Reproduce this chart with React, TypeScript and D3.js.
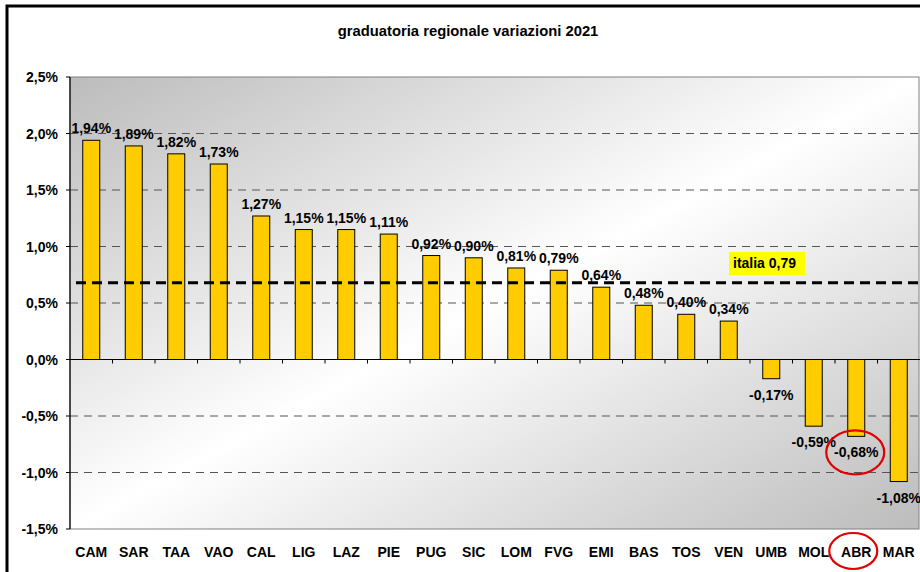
import React from 'react';
import * as d3 from 'd3';

// regions, ordered by variation
const regions = ['CAM', 'SAR', 'TAA', 'VAO', 'CAL', 'LIG', 'LAZ', 'PIE', 'PUG', 'SIC', 'LOM', 'FVG', 'EMI', 'BAS', 'TOS', 'VEN', 'UMB', 'MOL', 'ABR', 'MAR'];
const variations = [1.94, 1.89, 1.82, 1.73, 1.27, 1.15, 1.15, 1.11, 0.92, 0.9, 0.81, 0.79, 0.64, 0.48, 0.4, 0.34, -0.17, -0.59, -0.68, -1.08];
const yTicks = [-1.5, -1.0, -0.5, 0, 0.5, 1.0, 1.5, 2.0, 2.5];
const italiaLine = 0.68;
const italiaLabel = 'italia 0,79';
const highlighted = 'ABR';

const W = 920;
const H = 572;
const FONT = '"Liberation Sans", Arial, sans-serif';

const fmt = (v: number, dec: number) => v.toFixed(dec).replace('.', ',') + '%';

export default function App() {
  const left = 70, right = 920, top = 77, bottom = 529;

  const x = d3.scaleBand<string>().domain(regions).range([left, right]).paddingInner(0.6).paddingOuter(0.3);
  const y = d3.scaleLinear().domain([-1.5, 2.5]).range([bottom, top]);
  const step = x.step();
  const y0 = y(0);

  const hiIdx = regions.indexOf(highlighted);
  const hiX = (x(highlighted) as number) + x.bandwidth() / 2;
  const hiVal = variations[hiIdx];

  return (
    <svg width={W} height={H} style={{ position: 'absolute', left: 0, top: 0 }} fontFamily={FONT}>
      <defs>
        <linearGradient id="bg" x1="0" y1="0" x2="1" y2="1">
          <stop offset="0" stopColor="#bcbcbc" />
          <stop offset="0.5" stopColor="#ffffff" />
          <stop offset="1" stopColor="#bcbcbc" />
        </linearGradient>
      </defs>
      <rect x={0} y={0} width={W} height={H} fill="#fff" />
      {/* outer frame, cut by the picture edge */}
      <rect x={7} y={6} width={1000} height={1000} fill="none" stroke="#000" strokeWidth={3} />

      <text x={468} y={36} textAnchor="middle" fontWeight="bold" fontSize={14.8}>
        graduatoria regionale variazioni 2021
      </text>

      {/* plot area */}
      <rect x={left} y={top} width={right - left - 1} height={bottom - top} fill="url(#bg)" stroke="#808080" strokeWidth={1} />

      {yTicks
        .filter((t) => t !== 0 && t !== 2.5 && t !== -1.5)
        .map((t) => (
          <line key={'g' + t} x1={left} x2={right} y1={y(t)} y2={y(t)} stroke="#555" strokeWidth={1} strokeDasharray="8,6" />
        ))}

      {/* y axis */}
      <line x1={left} x2={left} y1={top} y2={bottom} stroke="#000" strokeWidth={1.2} />
      {yTicks.map((t) => (
        <g key={'y' + t}>
          <line x1={left - 4} x2={left} y1={y(t)} y2={y(t)} stroke="#000" />
          <text x={58} y={y(t) + 5} textAnchor="end" fontWeight="bold" fontSize={14}>
            {fmt(t, 1)}
          </text>
        </g>
      ))}

      {/* bars */}
      {variations.map((v, i) => (
        <rect
          key={'b' + i}
          x={x(regions[i])}
          y={Math.min(y(v), y0)}
          width={x.bandwidth()}
          height={Math.abs(y(v) - y0)}
          fill="#FFCC00"
          stroke="#000"
          strokeWidth={1}
        />
      ))}

      {/* zero line + category ticks */}
      <line x1={left} x2={right} y1={y0} y2={y0} stroke="#000" strokeWidth={1.2} />
      {regions.map((r, i) =>
        i === 0 ? null : <line key={'t' + r} x1={left + i * step} x2={left + i * step} y1={y0} y2={y0 + 4} stroke="#000" />
      )}

      {/* national average */}
      <line x1={76} x2={right} y1={y(italiaLine)} y2={y(italiaLine)} stroke="#000" strokeWidth={3} strokeDasharray="10,6" />
      <rect x={729} y={252} width={76} height={23} fill="#FFFF00" />
      <text x={733} y={268} fontWeight="bold" fontSize={14}>
        {italiaLabel}
      </text>

      {/* value labels */}
      {variations.map((v, i) => (
        <text
          key={'v' + i}
          x={(x(regions[i]) as number) + x.bandwidth() / 2}
          y={v >= 0 ? y(v) - 7 : y(v) + 21}
          textAnchor="middle"
          fontWeight="bold"
          fontSize={14}
        >
          {fmt(v, 2)}
        </text>
      ))}

      {/* category labels */}
      {regions.map((r) => (
        <text key={'c' + r} x={(x(r) as number) + x.bandwidth() / 2} y={557} textAnchor="middle" fontWeight="bold" fontSize={14}>
          {r}
        </text>
      ))}

      {/* highlight */}
      <ellipse cx={hiX - 1} cy={y(hiVal) + 16} rx={29} ry={22} fill="none" stroke="#e00000" strokeWidth={2.2} />
      <ellipse cx={hiX - 3} cy={551} rx={24} ry={18} fill="none" stroke="#e00000" strokeWidth={2.2} />
    </svg>
  );
}
